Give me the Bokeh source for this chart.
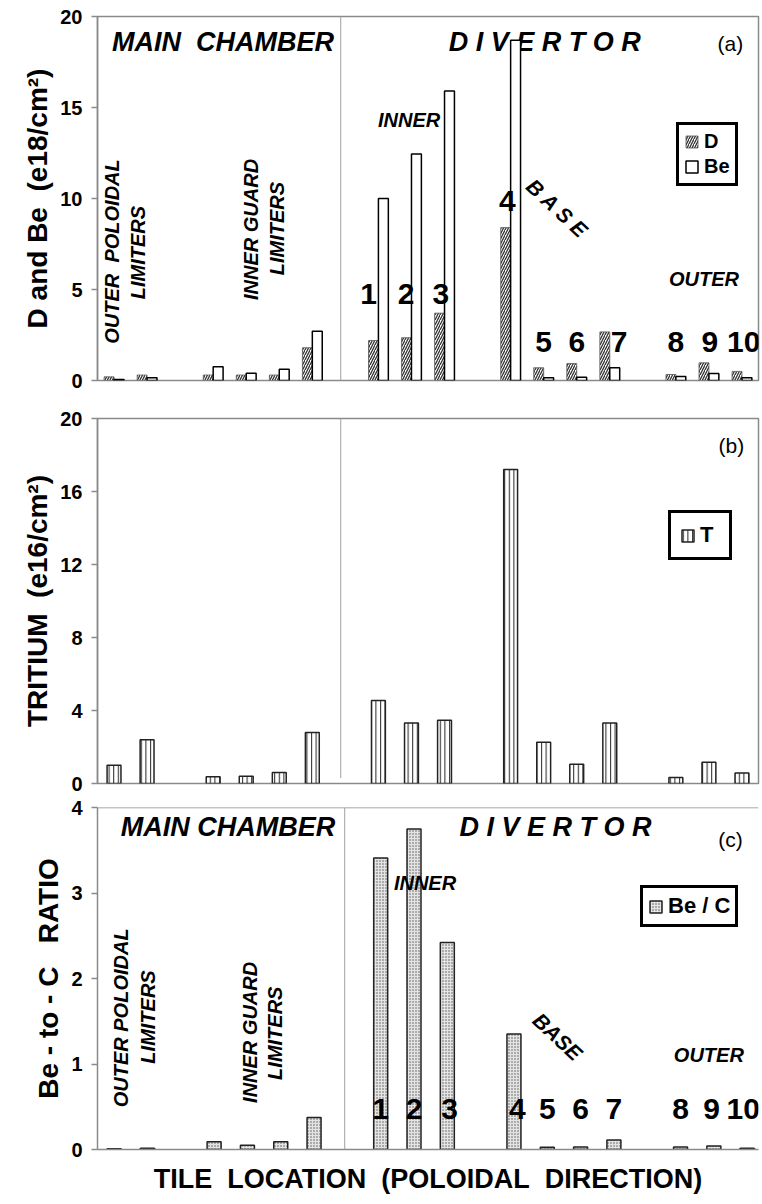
import numpy as np
from bokeh.plotting import figure
from bokeh.models import ColumnDataSource, Range1d, Span, Legend, LegendItem, FixedTicker
from bokeh.layouts import column
from bokeh.transform import dodge
from bokeh.core.properties import value
from bokeh.embed import file_html
from bokeh.resources import INLINE

# ---------------- data ----------------
tiles = ["OPL-1", "OPL-2", "IGL-1", "IGL-2", "IGL-3", "IGL-4",
         "1", "2", "3", "4", "5", "6", "7", "8", "9", "10"]
# poloidal order of the tiles (gaps between regions)
tile_pos = [0, 1, 3, 4, 5, 6, 8, 9, 10, 12, 13, 14, 15, 17, 18, 19]
deuterium = [0.2, 0.3, 0.3, 0.3, 0.3, 1.8, 2.2, 2.35, 3.7, 8.4, 0.7, 0.93, 2.67, 0.33, 0.97, 0.5]
beryllium = [0.05, 0.15, 0.75, 0.4, 0.62, 2.7, 10.0, 12.45, 15.9, 18.7, 0.15, 0.18, 0.7, 0.22, 0.38, 0.15]
tritium = [1.0, 2.4, 0.37, 0.4, 0.6, 2.8, 4.55, 3.32, 3.47, 17.2, 2.26, 1.06, 3.32, 0.33, 1.17, 0.58]
be_to_c = [0.01, 0.015, 0.09, 0.05, 0.09, 0.375, 3.41, 3.75, 2.42, 1.35, 0.025, 0.03, 0.11, 0.03, 0.04, 0.015]
ticks_a = [0, 5, 10, 15, 20]
ticks_b = [0, 4, 8, 12, 16, 20]
ticks_c = [0, 1, 2, 3, 4]

src = ColumnDataSource(dict(tile=tiles, pos=tile_pos, D=deuterium, Be=beryllium, T=tritium, BeC=be_to_c))

FONT = "Liberation Sans"
GREY = "#8a8a8a"
NBSP = "\u00a0"

num_labels = tiles[6:]
num_pos = np.array(tile_pos[6:], dtype=float)


def make_fig(height, y_end, ticks, bl, br, bt, bb, x_end, ylabel):
    p = figure(width=762, height=height, x_range=Range1d(-0.5, x_end), y_range=Range1d(0, y_end),
               output_backend="svg", toolbar_location=None,
               min_border_left=bl, min_border_right=br, min_border_top=bt, min_border_bottom=bb)
    p.grid.visible = False
    p.background_fill_color = "white"
    p.border_fill_color = "white"
    p.outline_line_color = GREY
    p.outline_line_width = 1.5
    ax = p.yaxis[0]
    ax.ticker = FixedTicker(ticks=ticks)
    ax.minor_tick_line_color = None
    ax.major_tick_out = 6
    ax.major_tick_in = 0
    ax.major_tick_line_color = GREY
    ax.major_tick_line_width = 1.5
    ax.axis_line_color = GREY
    ax.axis_line_width = 1.5
    ax.major_label_text_font = FONT
    ax.major_label_text_font_style = "bold"
    ax.major_label_text_font_size = "20px"
    ax.major_label_text_color = "black"
    ax.major_label_standoff = 9
    ax.axis_label = ylabel
    ax.axis_label_text_font = FONT
    ax.axis_label_text_font_style = "bold"
    ax.axis_label_text_font_size = "28px"
    ax.axis_label_text_color = "black"
    ax.axis_label_standoff = 4
    return p


def txt(p, x, y, s, size, style="bold italic", angle=0.0, align="center", baseline="alphabetic", font=FONT):
    p.text(x=[x], y=[y], text=[s], text_font=value(font), text_font_style=style,
           text_font_size=size, text_align=align, text_baseline=baseline, angle=angle,
           text_color="black")


def legend(p, items, loc, pad, size):
    lg = Legend(items=items, location=loc, margin=0, padding=pad, spacing=2,
                glyph_width=15, glyph_height=15, label_standoff=5,
                border_line_color="black", border_line_width=3, border_line_alpha=1.0,
                background_fill_color="white", background_fill_alpha=1.0,
                label_text_font=FONT, label_text_font_style="bold",
                label_text_font_size=size, label_text_color="black")
    p.add_layout(lg)


# ---------------- panel (a) ----------------
pa = make_fig(398, 20, ticks_a, 93, 1, 16, 18, 19.5, "D and Be" + NBSP * 2 + "(e18/cm²)")
pa.xaxis.visible = False
pa.add_layout(Span(location=6.86, dimension="height", line_color="#a0a0a0", line_width=1))

txt(pa, 3.30, 18.61, "MAIN" + NBSP * 2 + "CHAMBER", "27px")
txt(pa, 13.03, 18.61, "D I V E R T O R", "27px")
txt(pa, 18.65, 18.54, "(a)", "21px", style="normal")

rD = pa.vbar(x=dodge("pos", -0.15, range=pa.x_range), top="D", width=0.3, source=src,
             fill_color="white", line_color="#555555", line_width=0.8,
             hatch_pattern="/", hatch_color="#333333", hatch_scale=5, hatch_weight=1.3)
rBe = pa.vbar(x=dodge("pos", 0.15, range=pa.x_range), top="Be", width=0.3, source=src,
              fill_color="white", line_color="black", line_width=1.5)

txt(pa, 8.93, 14.29, "INNER", "20px")
txt(pa, 13.42, 9.45, "B A S E", "21px", angle=-0.75, baseline="middle")
txt(pa, 17.85, 5.55, "OUTER", "20px")
txt(pa, -0.05, 7.09, "OUTER" + NBSP * 2 + "POLOIDAL", "20px", angle=np.pi / 2)
txt(pa, 0.73, 7.03, "LIMITERS", "20px", angle=np.pi / 2)
txt(pa, 4.14, 8.30, "INNER GUARD", "20px", angle=np.pi / 2)
txt(pa, 4.92, 8.35, "LIMITERS", "20px", angle=np.pi / 2)

off_a = [-0.3, -0.16, -0.11, -0.1, 0, 0, 0.28, 0, 0.03, 0.05]
y_a = [4.78, 4.78, 4.78, 9.84, 2.14, 2.14, 2.14, 2.14, 2.14, 2.14]
pa.text(x=list(num_pos + np.array(off_a)), y=y_a, text=num_labels, text_font=value(FONT),
        text_font_style="bold", text_font_size="30px", text_align="center",
        text_baseline="alphabetic", text_color="black")

legend(pa, [LegendItem(label="D", renderers=[rD]), LegendItem(label="Be", renderers=[rBe])], (579, 194), 5, "20px")

# ---------------- panel (b) ----------------
pb = make_fig(395, 20, ticks_b, 97, 4, 20, 10, 19.5, "TRITIUM" + NBSP * 2 + "(e16/cm²)")
pb.xaxis.visible = False
pb.segment(x0=[6.86], y0=[0.3], x1=[6.86], y1=[20], line_color="#a0a0a0", line_width=1)
txt(pb, 18.68, 18.54, "(b)", "21px", style="normal")
rT = pb.vbar(x="pos", top="T", width=0.42, source=src, fill_color="white",
             line_color="#222222", line_width=1.5,
             hatch_pattern="|", hatch_color="#333333", hatch_scale=4.6, hatch_weight=1.1)
legend(pb, [LegendItem(label="T", renderers=[rT])], (571, 223), 9, "22px")

# ---------------- panel (c) ----------------
pc = make_fig(411, 4, ticks_c, 94, 0, 14, 55, 19.34, "Be - to - C" + NBSP * 3 + "RATIO")
pc.outline_line_color = None
pc.add_layout(Span(location=4, dimension="width", line_color=GREY, line_width=1.5))
xa = pc.xaxis[0]
xa.ticker = FixedTicker(ticks=[])
xa.minor_tick_line_color = None
xa.major_tick_line_color = None
xa.axis_line_color = GREY
xa.axis_line_width = 1.5
xa.axis_label = "TILE" + NBSP * 2 + "LOCATION" + NBSP * 2 + "(POLOIDAL" + NBSP * 2 + "DIRECTION)"
xa.axis_label_text_font = FONT
xa.axis_label_text_font_style = "bold"
xa.axis_label_text_font_size = "27px"
xa.axis_label_text_color = "black"
xa.axis_label_standoff = 14
pc.add_layout(Span(location=6.92, dimension="height", line_color="#a0a0a0", line_width=1))

txt(pc, 3.42, 3.776, "MAIN CHAMBER", "27px")
txt(pc, 13.25, 3.776, "D I V E R T O R", "27px")
txt(pc, 18.5, 3.628, "(c)", "21px", style="normal")

rC = pc.vbar(x="pos", top="BeC", width=0.42, source=src, fill_color="#e4e4e4",
             line_color="#222222", line_width=1.5,
             hatch_pattern=".", hatch_color="#555555", hatch_scale=3, hatch_weight=1)

txt(pc, 9.33, 3.114, "INNER", "20px")
txt(pc, 13.31, 1.32, "BASE", "21px", angle=-0.75, baseline="middle")
txt(pc, 17.85, 1.104, "OUTER", "20px")
txt(pc, 0.21, 1.54, "OUTER POLOIDAL", "20px", angle=np.pi / 2)
txt(pc, 1.01, 1.55, "LIMITERS", "20px", angle=np.pi / 2)
txt(pc, 4.07, 1.37, "INNER GUARD", "20px", angle=np.pi / 2)
txt(pc, 4.84, 1.36, "LIMITERS", "20px", angle=np.pi / 2)

off_c = [0, 0, 0.07, 0.1, 0, 0, 0, 0, -0.07, -0.12]
pc.text(x=list(num_pos + np.array(off_c)), y=[0.47] * 10, text=num_labels, text_font=value(FONT),
        text_font_style="bold", text_font_size="30px", text_align="center",
        text_baseline="alphabetic", text_color="black")

legend(pc, [LegendItem(label="Be / C", renderers=[rC])], (543, 222), 5, "22px")

layout = column(pa, pb, pc, spacing=0)
open("out.html", "w").write(file_html(layout, INLINE))
